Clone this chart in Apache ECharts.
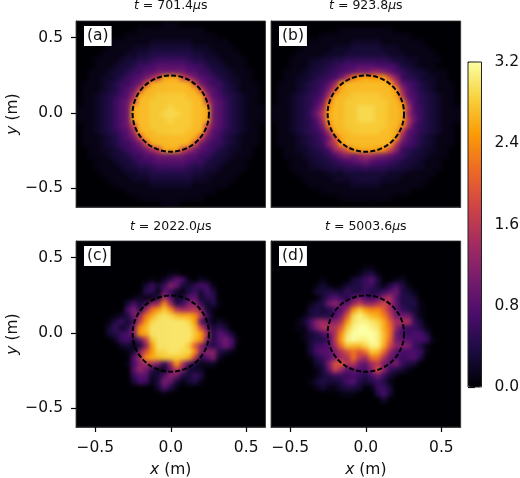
<!DOCTYPE html>
<html>
<head>
<meta charset="utf-8">
<title>Density maps</title>
<script src="https://cdn.jsdelivr.net/npm/echarts@6/dist/echarts.min.js"></script>
<style>
  html, body { margin: 0; padding: 0; background: #fff; }
  #stage { position: relative; width: 520px; height: 478px; overflow: hidden; }
  #mapsClip, #maps, #axes { position: absolute; left: 0; top: 0; width: 520px; height: 478px; }
  /* the measured maps are smooth images: soften the cells, and trim the blur to the panels */
  #mapsClip { clip-path: path("M76 21H265.5V207H76Z M271 21H460.7V207H271Z M76 241H265.5V427H76Z M271 241H460.7V427H271Z"); }
  #maps { filter: blur(1.9px); }
</style>
</head>
<body>
<div id="stage">
  <div id="mapsClip"><div id="maps"></div></div>
  <div id="axes"></div>
</div>
<script>
// values, in tenths, first row = top of the panel
const panelA = [
[0,0,0,0,0,0,0,0,0,0,0,0,0,0,1,1,1,0,0,0,0,0,0,0,0,0,0,0,0,0,0],
[0,0,0,0,0,0,0,0,0,0,1,1,1,1,1,1,1,1,1,1,1,0,0,0,0,0,0,0,0,0,0],
[0,0,0,0,0,0,0,0,1,1,1,1,1,1,1,1,1,1,1,1,1,1,1,0,0,0,0,0,0,0,0],
[0,0,0,0,0,0,1,1,1,1,1,1,2,2,2,2,2,2,2,1,1,1,1,1,1,0,0,0,0,0,0],
[0,0,0,0,0,1,1,1,1,2,2,2,3,3,3,3,3,3,3,2,2,2,1,1,1,1,0,0,0,0,0],
[0,0,0,0,1,1,1,1,2,2,3,3,4,4,4,4,4,4,4,3,3,2,2,1,1,1,1,0,0,0,0],
[0,0,0,1,1,1,1,2,3,3,4,4,5,6,6,6,6,6,5,4,4,3,3,2,1,1,1,1,0,0,0],
[0,0,0,1,1,1,2,3,3,4,6,6,7,8,8,8,8,8,7,6,6,4,3,3,2,1,1,1,0,0,0],
[0,0,1,1,1,2,3,3,4,6,6,8,8,10,10,10,10,10,8,8,6,6,4,3,3,2,1,1,1,0,0],
[0,0,1,1,2,2,3,4,6,7,8,10,14,18,26,26,26,18,14,10,8,7,6,4,3,2,2,1,1,0,0],
[0,1,1,1,2,3,4,6,6,8,10,18,26,27,27,27,27,27,26,18,10,8,6,6,4,3,2,1,1,1,0],
[0,1,1,1,2,3,4,6,8,10,18,26,27,27,27,27,27,27,27,26,18,10,8,6,4,3,2,1,1,1,0],
[0,1,1,2,3,4,5,7,8,14,26,27,27,28,28,28,28,28,27,27,26,14,8,7,5,4,3,2,1,1,0],
[0,1,1,2,3,4,6,8,10,18,27,27,28,28,28,28,28,28,28,27,27,18,10,8,6,4,3,2,1,1,0],
[1,1,1,2,3,4,6,8,10,26,27,27,28,28,28,29,28,28,28,27,27,26,10,8,6,4,3,2,1,1,1],
[1,1,1,2,3,4,6,8,10,26,27,27,28,28,29,29,29,28,28,27,27,26,10,8,6,4,3,2,1,1,1],
[1,1,1,2,3,4,6,8,10,26,27,27,28,28,28,29,28,28,28,27,27,26,10,8,6,4,3,2,1,1,1],
[0,1,1,2,3,4,6,8,10,18,27,27,28,28,28,28,28,28,28,27,27,18,10,8,6,4,3,2,1,1,0],
[0,1,1,2,3,4,5,7,8,14,26,27,27,28,28,28,28,28,27,27,26,14,8,7,5,4,3,2,1,1,0],
[0,1,1,1,2,3,4,6,8,10,18,26,27,27,27,27,27,27,27,26,18,10,8,6,4,3,2,1,1,1,0],
[0,1,1,1,2,3,4,6,6,8,10,18,26,27,27,27,27,27,26,18,10,8,6,6,4,3,2,1,1,1,0],
[0,0,1,1,2,2,3,4,6,7,8,10,14,18,26,26,26,18,14,10,8,7,6,4,3,2,2,1,1,0,0],
[0,0,1,1,1,2,3,3,4,6,6,8,8,10,10,10,10,10,8,8,6,6,4,3,3,2,1,1,1,0,0],
[0,0,0,1,1,1,2,3,3,4,6,6,7,8,8,8,8,8,7,6,6,4,3,3,2,1,1,1,0,0,0],
[0,0,0,1,1,1,1,2,3,3,4,4,5,6,6,6,6,6,5,4,4,3,3,2,1,1,1,1,0,0,0],
[0,0,0,0,1,1,1,1,2,2,3,3,4,4,4,4,4,4,4,3,3,2,2,1,1,1,1,0,0,0,0],
[0,0,0,0,0,1,1,1,1,2,2,2,3,3,3,3,3,3,3,2,2,2,1,1,1,1,0,0,0,0,0],
[0,0,0,0,0,0,1,1,1,1,1,1,2,2,2,2,2,2,2,1,1,1,1,1,1,0,0,0,0,0,0],
[0,0,0,0,0,0,0,0,1,1,1,1,1,1,1,1,1,1,1,1,1,1,1,0,0,0,0,0,0,0,0],
[0,0,0,0,0,0,0,0,0,0,1,1,1,1,1,1,1,1,1,1,1,0,0,0,0,0,0,0,0,0,0],
[0,0,0,0,0,0,0,0,0,0,0,0,0,0,1,1,1,0,0,0,0,0,0,0,0,0,0,0,0,0,0]
];
const panelB = [
[0,0,0,0,0,0,0,0,0,0,0,0,0,0,0,0,0,0,0,0,0,0,0,0,0,0,0,0,0,0,0],
[0,0,0,0,0,0,0,0,0,0,0,1,1,1,1,1,1,1,1,1,0,0,0,0,0,0,0,0,0,0,0],
[0,0,0,0,0,0,0,0,1,1,1,1,1,1,1,1,1,1,1,1,1,1,1,0,0,0,0,0,0,0,0],
[0,0,0,0,0,0,1,1,1,1,1,1,1,2,2,2,2,2,1,1,1,1,1,1,1,0,0,0,0,0,0],
[0,0,0,0,0,1,1,1,1,1,2,2,2,3,3,3,3,3,2,2,2,1,1,1,1,1,0,0,0,0,0],
[0,0,0,0,1,1,1,1,1,2,2,2,3,3,3,3,3,3,3,2,2,2,1,1,1,1,1,0,0,0,0],
[0,0,0,1,1,1,2,2,3,3,4,4,5,5,5,5,5,5,5,4,3,3,2,2,1,1,1,1,0,0,0],
[0,0,0,1,1,1,2,3,3,4,5,6,7,7,8,8,8,7,7,7,6,3,3,2,1,1,1,0,0,0,0],
[0,0,1,1,1,2,3,3,4,5,6,7,8,9,11,10,12,13,11,9,7,6,4,3,3,2,1,1,1,0,0],
[0,0,1,1,2,2,3,4,5,6,7,10,16,23,25,26,25,25,25,18,12,6,5,4,3,2,2,1,1,0,0],
[0,1,1,1,2,3,4,5,6,8,13,25,27,27,27,27,27,27,27,26,17,9,7,6,4,3,2,1,1,1,0],
[0,1,1,1,2,3,4,5,7,11,19,26,27,27,27,27,27,27,27,27,25,13,8,6,4,3,2,1,1,1,0],
[0,1,1,2,3,4,5,6,8,15,26,27,27,28,28,28,28,28,27,27,26,16,8,7,5,4,3,2,1,1,0],
[0,1,1,2,3,4,5,7,10,22,27,27,28,28,28,28,28,28,28,27,27,24,11,7,5,4,3,2,1,1,0],
[1,1,1,2,3,4,5,8,13,25,27,27,28,28,29,29,29,28,28,27,27,26,15,7,6,4,3,2,1,1,1],
[1,1,1,2,3,4,6,10,16,26,27,27,28,28,29,29,29,28,28,27,27,26,13,8,6,4,3,2,1,1,1],
[1,1,1,2,3,4,5,8,14,26,27,27,28,28,29,29,29,28,28,27,27,26,16,9,6,4,3,2,1,1,1],
[0,1,1,2,3,4,5,7,11,23,27,27,28,28,28,28,28,28,28,27,27,24,14,7,5,4,3,2,1,1,0],
[0,1,1,2,3,4,5,6,8,15,26,27,27,28,28,28,28,28,27,27,26,17,8,7,5,4,3,2,1,1,0],
[0,1,1,1,2,3,4,5,7,10,19,26,27,27,27,27,27,27,27,27,25,12,8,6,4,3,2,1,1,1,0],
[0,1,1,1,2,3,4,5,6,12,16,25,27,27,27,27,27,27,27,26,16,9,7,6,4,3,2,1,1,1,0],
[0,0,1,1,2,2,3,4,5,7,13,16,20,25,26,26,26,25,24,18,12,6,5,4,3,2,2,1,1,0,0],
[0,0,1,1,1,2,3,3,4,5,7,10,12,10,12,14,13,11,10,9,7,6,4,3,3,2,1,1,1,0,0],
[0,0,0,1,1,1,2,3,3,4,5,6,7,8,9,10,8,7,7,6,5,4,3,3,2,1,1,1,0,0,0],
[0,0,0,1,1,1,2,2,3,3,4,4,5,5,5,6,5,5,5,4,4,3,3,2,2,1,1,1,0,0,0],
[0,0,0,0,1,1,1,1,1,2,2,2,3,3,3,3,3,3,3,2,2,2,1,1,1,1,1,0,0,0,0],
[0,0,0,0,0,1,1,1,1,1,2,2,2,3,3,3,3,3,2,2,2,1,1,1,1,1,0,0,0,0,0],
[0,0,0,0,0,0,1,1,1,1,1,1,1,2,2,2,2,2,1,1,1,1,1,1,1,0,0,0,0,0,0],
[0,0,0,0,0,0,0,0,1,1,1,1,1,1,1,1,1,1,1,1,1,1,1,0,0,0,0,0,0,0,0],
[0,0,0,0,0,0,0,0,0,0,0,1,1,1,1,1,1,1,1,1,0,0,0,0,0,0,0,0,0,0,0],
[0,0,0,0,0,0,0,0,0,0,0,0,0,0,0,0,0,0,0,0,0,0,0,0,0,0,0,0,0,0,0]
];
const panelC = [
[0,0,0,0,0,0,0,0,0,0,0,0,0,0,0,0,0,0,0,0,0,0,0,0,0,0,0,0,0,0,0],
[0,0,0,0,0,0,0,0,0,0,0,0,0,0,0,0,0,0,0,0,0,0,0,0,0,0,0,0,0,0,0],
[0,0,0,0,0,0,0,0,0,0,0,0,0,0,0,0,0,0,0,0,0,0,0,0,0,0,0,0,0,0,0],
[0,0,0,0,0,0,0,0,0,0,0,0,0,0,0,0,0,0,0,0,0,0,0,0,0,0,0,0,0,0,0],
[0,0,0,0,0,0,0,0,0,0,0,0,0,0,0,0,0,0,0,0,0,0,0,0,0,0,0,0,0,0,0],
[0,0,0,0,0,0,0,0,0,0,0,0,0,0,0,1,1,0,0,0,0,0,0,0,0,0,0,0,0,0,0],
[0,0,0,0,0,0,0,0,0,0,0,0,1,0,2,5,9,7,1,0,2,1,0,0,0,0,0,0,0,0,0],
[0,0,0,0,0,0,0,0,0,0,0,3,6,3,6,12,9,3,3,5,7,6,1,0,0,0,0,0,0,0,0],
[0,0,0,0,0,0,0,0,0,0,0,5,5,1,9,6,2,1,4,6,3,7,4,0,0,0,0,0,0,0,0],
[0,0,0,0,0,0,0,0,0,1,2,1,1,4,14,8,2,3,8,9,2,5,5,0,0,0,0,0,0,0,0],
[0,0,0,0,0,0,0,0,3,7,3,6,12,14,24,14,4,6,11,12,6,2,4,1,0,0,0,0,0,0,0],
[0,0,0,0,0,0,0,0,7,11,5,14,22,25,28,24,16,14,15,16,12,3,1,0,0,0,0,0,0,0,0],
[0,0,0,0,0,0,1,2,4,10,13,22,26,29,30,29,27,26,26,24,16,6,1,0,0,0,0,0,0,0,0],
[0,0,0,0,0,1,4,6,3,6,17,25,29,30,30,30,30,30,29,25,8,4,1,2,1,0,0,0,0,0,0],
[0,0,0,0,0,3,6,2,4,11,24,27,30,30,30,30,30,30,30,27,18,9,3,5,3,0,0,0,0,0,0],
[0,0,0,0,0,3,4,6,7,11,25,26,30,30,30,30,30,30,30,28,25,15,4,8,7,3,0,0,0,0,0],
[0,0,0,0,0,0,2,6,7,4,9,17,28,30,30,30,30,30,30,27,24,11,4,8,10,7,1,0,0,0,0],
[0,0,0,0,0,0,0,2,3,1,3,12,25,30,30,30,30,30,28,20,12,6,4,7,10,7,0,0,0,0,0],
[0,0,0,0,0,0,0,0,1,3,12,19,25,29,29,30,30,29,29,24,11,12,12,4,3,1,0,0,0,0,0],
[0,0,0,0,0,0,0,0,0,8,14,24,26,27,28,28,28,28,26,16,5,8,11,2,0,0,0,0,0,0,0],
[0,0,0,0,0,0,0,0,1,7,12,14,14,11,5,13,25,15,7,4,1,2,2,0,0,0,0,0,0,0,0],
[0,0,0,0,0,0,0,0,0,8,13,10,5,2,2,9,16,11,3,2,2,0,0,0,0,0,0,0,0,0,0],
[0,0,0,0,0,0,0,0,0,6,8,8,2,3,8,12,10,4,3,6,4,0,0,0,0,0,0,0,0,0,0],
[0,0,0,0,0,0,0,0,0,3,7,6,1,4,11,9,3,1,3,4,1,0,0,0,0,0,0,0,0,0,0],
[0,0,0,0,0,0,0,0,0,0,0,0,0,3,8,4,1,0,0,0,0,0,0,0,0,0,0,0,0,0,0],
[0,0,0,0,0,0,0,0,0,0,0,0,0,0,1,0,0,0,0,0,0,0,0,0,0,0,0,0,0,0,0],
[0,0,0,0,0,0,0,0,0,0,0,0,0,0,0,0,0,0,0,0,0,0,0,0,0,0,0,0,0,0,0],
[0,0,0,0,0,0,0,0,0,0,0,0,0,0,0,0,0,0,0,0,0,0,0,0,0,0,0,0,0,0,0],
[0,0,0,0,0,0,0,0,0,0,0,0,0,0,0,0,0,0,0,0,0,0,0,0,0,0,0,0,0,0,0],
[0,0,0,0,0,0,0,0,0,0,0,0,0,0,0,0,0,0,0,0,0,0,0,0,0,0,0,0,0,0,0],
[0,0,0,0,0,0,0,0,0,0,0,0,0,0,0,0,0,0,0,0,0,0,0,0,0,0,0,0,0,0,0]
];
const panelD = [
[0,0,0,0,0,0,0,0,0,0,0,0,0,0,0,0,0,0,0,0,0,0,0,0,0,0,0,0,0,0,0],
[0,0,0,0,0,0,0,0,0,0,0,0,0,0,0,0,0,0,0,0,0,0,0,0,0,0,0,0,0,0,0],
[0,0,0,0,0,0,0,0,0,0,0,0,0,0,0,0,0,0,0,0,0,0,0,0,0,0,0,0,0,0,0],
[0,0,0,0,0,0,0,0,0,0,0,0,0,0,0,0,0,0,0,0,0,0,0,0,0,0,0,0,0,0,0],
[0,0,0,0,0,0,0,0,0,0,0,0,0,0,0,1,1,0,0,0,0,0,0,0,0,0,0,0,0,0,0],
[0,0,0,0,0,0,0,0,0,0,0,0,0,0,1,3,4,1,0,0,0,0,0,0,0,0,0,0,0,0,0],
[0,0,0,0,0,0,0,0,1,0,0,0,0,3,4,6,8,4,0,0,1,2,0,0,0,0,0,0,0,0,0],
[0,0,0,0,0,0,0,1,3,1,0,1,3,4,4,6,6,3,1,4,7,4,1,0,0,0,0,0,0,0,0],
[0,0,0,0,0,0,0,3,3,4,4,3,6,4,4,6,4,4,6,8,10,4,3,1,0,0,0,0,0,0,0],
[0,0,0,0,0,0,0,0,3,6,8,6,4,8,10,7,6,8,13,15,8,4,4,3,0,0,0,0,0,0,0],
[0,0,0,0,0,0,1,3,4,10,12,10,8,13,17,13,13,15,18,14,9,4,4,4,1,0,0,0,0,0,0],
[0,0,0,0,0,0,3,4,3,4,7,8,14,24,28,25,23,24,20,14,9,6,4,3,1,0,0,0,0,0,0],
[0,0,0,0,0,1,3,4,4,4,7,11,20,29,31,29,27,26,23,17,10,10,10,4,1,0,0,0,0,0,0],
[0,0,0,0,1,3,7,12,14,12,12,15,25,30,31,31,30,29,26,20,14,15,15,6,3,0,0,0,0,0,0],
[0,0,0,0,1,1,6,11,15,15,15,20,28,31,32,32,31,30,26,22,13,8,6,6,4,1,0,0,0,0,0],
[0,0,0,0,0,1,3,4,7,10,15,24,30,32,32,32,32,31,27,22,10,7,6,7,7,4,0,0,0,0,0],
[0,0,0,0,0,1,3,4,4,7,16,25,31,32,31,31,32,31,27,21,10,9,8,7,7,6,1,0,0,0,0],
[0,0,0,0,0,0,3,6,7,8,14,22,28,27,27,29,31,31,26,18,12,12,11,6,4,1,0,0,0,0,0],
[0,0,0,0,0,0,3,7,8,8,11,15,19,22,19,22,28,27,21,13,8,7,7,7,6,1,0,0,0,0,0],
[0,0,0,0,0,0,1,4,6,8,11,14,15,22,16,14,22,22,15,9,8,6,7,8,4,0,0,0,0,0,0],
[0,0,0,0,0,0,0,3,4,11,19,20,15,16,10,9,14,16,10,9,11,6,4,3,0,0,0,0,0,0,0],
[0,0,0,0,0,0,0,1,3,9,17,13,8,9,8,7,12,19,12,6,4,3,1,0,0,0,0,0,0,0,0],
[0,0,0,0,0,0,0,1,3,4,6,6,6,7,6,4,7,10,6,3,1,0,0,0,0,0,0,0,0,0,0],
[0,0,0,0,0,0,1,3,4,3,3,4,7,8,4,3,4,6,4,1,0,0,0,0,0,0,0,0,0,0,0],
[0,0,0,0,0,0,0,1,3,1,1,3,4,4,3,0,1,6,6,3,0,0,0,0,0,0,0,0,0,0,0],
[0,0,0,0,0,0,0,0,0,0,0,1,1,1,0,0,0,4,7,3,0,0,0,0,0,0,0,0,0,0,0],
[0,0,0,0,0,0,0,0,0,0,0,0,0,0,0,0,0,0,3,0,0,0,0,0,0,0,0,0,0,0,0],
[0,0,0,0,0,0,0,0,0,0,0,0,0,0,0,0,0,0,0,0,0,0,0,0,0,0,0,0,0,0,0],
[0,0,0,0,0,0,0,0,0,0,0,0,0,0,0,0,0,0,0,0,0,0,0,0,0,0,0,0,0,0,0],
[0,0,0,0,0,0,0,0,0,0,0,0,0,0,0,0,0,0,0,0,0,0,0,0,0,0,0,0,0,0,0],
[0,0,0,0,0,0,0,0,0,0,0,0,0,0,0,0,0,0,0,0,0,0,0,0,0,0,0,0,0,0,0]
];
const panelLabels = ['(a)', '(b)', '(c)', '(d)'];
const panelTimes = ['701.4', '923.8', '2022.0', '5003.6'];
const axisTicks = [-0.5, 0, 0.5];
const colorbarTicks = [0, 0.8, 1.6, 2.4, 3.2];
const circleData = [[0, -0.005, 0.253]];
const inferno = ['#000004', '#1b0c41', '#4a0c6b', '#781c6d', '#a52c60', '#cf4446', '#ed6925', '#fb9b06', '#f7d13d', '#fcffa4'];

const panels = [panelA, panelB, panelC, panelD];
const gridRects = [
  { left: 76, top: 21, width: 189.5, height: 186 },
  { left: 271, top: 21, width: 189.7, height: 186 },
  { left: 76, top: 241, width: 189.5, height: 186 },
  { left: 271, top: 241, width: 189.7, height: 186 }
];
const FONT = 'DejaVu Sans';
const TEXT = '#111';

function tickText(v) {
  return v.toFixed(1).replace('-', '\u2212');
}

// maps layer: one hidden grid per panel
const mapChart = echarts.init(document.getElementById('maps'));
const cells = panelA[0].map((_, i) => String(i));
const rows = panelA.map((_, i) => String(i));
mapChart.setOption({
  animation: false,
  backgroundColor: '#000004',
  grid: gridRects.map(g => ({ ...g, outerBoundsMode: 'none' })),
  xAxis: gridRects.map((_, k) => ({ type: 'category', gridIndex: k, data: cells, show: false })),
  yAxis: gridRects.map((_, k) => ({ type: 'category', gridIndex: k, data: rows, inverse: true, show: false })),
  visualMap: {
    show: false,
    min: 0,
    max: 3.2,
    seriesIndex: [0, 1, 2, 3],
    inRange: { color: inferno }
  },
  series: panels.map((panel, k) => {
    const data = [];
    panel.forEach((row, j) => row.forEach((v, i) => data.push([i, j, v / 10])));
    return { type: 'heatmap', xAxisIndex: k, yAxisIndex: k, data: data, progressive: 0 };
  })
});

// axes layer: frames, ticks, circles, colorbar and texts
const axisChart = echarts.init(document.getElementById('axes'));
const tickFont = { color: TEXT, fontFamily: FONT, fontSize: 15.5 };
const nameStyle = {
  color: TEXT, fontFamily: FONT, fontSize: 15.5,
  rich: { i: { fontStyle: 'italic', fontFamily: FONT, fontSize: 15.5, color: TEXT } }
};

const xAxes = gridRects.map((_, k) => ({
  type: 'value',
  gridIndex: k,
  min: -0.628,
  max: 0.628,
  name: k >= 2 ? '{i|x} (m)' : '',
  nameLocation: 'middle',
  nameGap: 35,
  nameTextStyle: nameStyle,
  splitLine: { show: false },
  axisLine: { onZero: false, lineStyle: { color: '#222', width: 0.8 } },
  axisTick: { show: k >= 2, length: 5, customValues: axisTicks, lineStyle: { color: '#000', width: 1.2 } },
  axisLabel: { show: k >= 2, margin: 12.5, customValues: axisTicks, formatter: tickText, ...tickFont }
}));
const yAxes = gridRects.map((_, k) => ({
  type: 'value',
  gridIndex: k,
  min: -0.627,
  max: 0.611,
  name: k % 2 === 0 ? '{i|y} (m)' : '',
  nameLocation: 'middle',
  nameRotate: 90,
  nameGap: 54,
  nameTextStyle: nameStyle,
  splitLine: { show: false },
  axisLine: { onZero: false, lineStyle: { color: '#222', width: 0.8 } },
  axisTick: { show: k % 2 === 0, length: 5, customValues: axisTicks, lineStyle: { color: '#000', width: 1.2 } },
  axisLabel: { show: k % 2 === 0, margin: 13, customValues: axisTicks, formatter: tickText, ...tickFont }
}));

// colorbar axis lives in a fifth grid
xAxes.push({ type: 'value', gridIndex: 4, min: 0, max: 1, show: false });
yAxes.push({
  type: 'value',
  gridIndex: 4,
  position: 'right',
  min: 0,
  max: 3.2,
  interval: 0.8,
  splitLine: { show: false },
  axisLine: { show: false },
  axisTick: { length: 7, customValues: colorbarTicks, lineStyle: { color: '#000', width: 1.2 } },
  axisLabel: { margin: 13, formatter: tickText, ...tickFont }
});

const circleSeries = gridRects.map((_, k) => ({
  type: 'custom',
  xAxisIndex: k,
  yAxisIndex: k,
  data: circleData,
  silent: true,
  z: 5,
  renderItem: (params, api) => {
    const c = api.coord([api.value(0), api.value(1)]);
    const r = api.size([api.value(2), api.value(2)]);
    return {
      type: 'circle',
      shape: { cx: c[0], cy: c[1], r: r[0] },
      style: { fill: 'none', stroke: '#000', lineWidth: 2, lineDash: [5, 2.2] }
    };
  }
}));

const texts = [];
const titleRich = { i: { fontStyle: 'italic', fontFamily: FONT, fontSize: 12.5, fill: TEXT } };
gridRects.forEach((g, k) => {
  texts.push({
    type: 'text',
    x: g.left + g.width / 2,
    y: g.top - (k < 2 ? 22 : 21),
    z: 20,
    style: {
      text: '{i|t} = ' + panelTimes[k] + '{i|\u03bc}s',
      rich: titleRich,
      fontFamily: FONT,
      fontSize: 12.5,
      fill: TEXT,
      align: 'center'
    }
  });
  texts.push({
    type: 'text',
    x: g.left + 8,
    y: g.top + 5,
    z: 20,
    style: {
      text: panelLabels[k],
      fontFamily: FONT,
      fontSize: 15.5,
      fill: TEXT,
      backgroundColor: '#fff',
      padding: [2, 3, 2, 3]
    }
  });
});

axisChart.setOption({
  animation: false,
  grid: gridRects.map(g => ({ ...g, show: true, borderColor: '#333', borderWidth: 0.8, outerBoundsMode: 'none' })).concat([
    { left: 468, top: 62, width: 13.5, height: 325, show: true, borderColor: '#222', borderWidth: 1, backgroundColor: 'transparent', z: 3, outerBoundsMode: 'none' }
  ]),
  xAxis: xAxes,
  yAxis: yAxes,
  visualMap: {
    type: 'continuous',
    min: 0,
    max: 3.2,
    seriesIndex: [],
    left: 468,
    top: 62,
    itemWidth: 13.5,
    itemHeight: 325,
    padding: 0,
    calculable: false,
    realtime: false,
    hoverLink: false,
    text: null,
    showLabel: false,
    z: 1,
    inRange: { color: inferno }
  },
  graphic: texts,
  series: circleSeries
});
</script>
</body>
</html>
